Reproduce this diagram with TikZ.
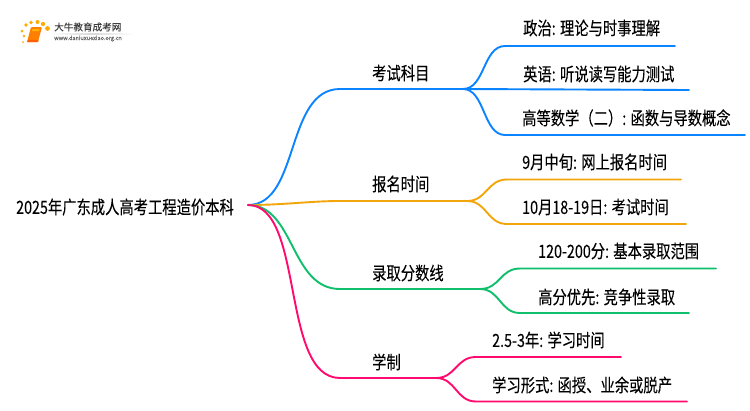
\documentclass[tikz,border=0pt]{standalone}
\usepackage{fontspec}
\setmainfont{Noto Sans CJK SC}[FakeBold=0.12]
\definecolor{blueline}{HTML}{0A84FF}
\definecolor{orangeline}{HTML}{F2A60C}
\definecolor{greenline}{HTML}{0FBF6C}
\definecolor{pinkline}{HTML}{FF0A6E}
\newcommand{\tall}[1]{\scalebox{1}[1.27]{#1}}
\tikzset{
  lbl/.style={anchor=west,inner sep=0pt,font=\fontsize{14.3}{16}\selectfont},
  conn/.style={line width=1.9pt,line cap=round}
}
\begin{document}
\begin{tikzpicture}[x=1pt,y=-1pt]
\useasboundingbox (0,0) rectangle (750,410);
% logo
\fill[white] (0,0) rectangle (750,410);
\shade[left color=white,right color=white,middle color=black!15] (50,33) rectangle (134,34);
\foreach \px/\py/\pr in {23/42/1,24/36/1.4,22/31/1.5,26/25/1.8,31/22.5/1.9,37.5/22/2,43/24/2.1,47.5/28.5/2.4}
  \fill[orange!65!yellow] (\px,\py) circle (\pr);
\fill[orange,rounded corners=1pt] (31,27) -- (42,27) -- (38,42) -- (27,42) -- cycle;
\fill[orange!60!yellow] (32.5,29) -- (39.5,29) -- (39,31) -- (32,31) -- cycle;
\fill[orange!75!red] (27,42) -- (38,42) -- (38.6,39.8) -- (28,40) -- cycle;
\node[inner sep=0pt,anchor=west,font=\fontsize{9.6}{10}\selectfont,text=black!75] (logoname) at (54,27) {大牛教育成考网};
\node[inner sep=0pt,anchor=west,font=\fontsize{5.6}{6}\selectfont,text=black!60] (logourl) at (54,38.5) {www.daniuxuexiao.org.cn};
% root
\node[lbl] (root) at (16,207) {\tall{2025年广东成人高考工程造价本科}};
\coordinate (o) at (248,205);
% first level
\node[lbl] (exam) at (372,73) {\tall{考试科目}};
\node[lbl] (sign) at (372,184) {\tall{报名时间}};
\node[lbl] (score) at (372,273) {\tall{录取分数线}};
\node[lbl] (study) at (372,362) {\tall{学制}};
\coordinate (examf) at (463,89);
\coordinate (signf) at (467,201);
\coordinate (scoref) at (480,289);
\coordinate (studyf) at (436,378);
% leaves
\node[lbl] (l1) at (523,28) {\tall{政治: 理论与时事理解}};
\node[lbl] (l2) at (523,74) {\tall{英语: 听说读写能力测试}};
\node[lbl] (l3) at (522,118) {\tall{高等数学（二）: 函数与导数概念}};
\node[lbl] (l4) at (522,162) {\tall{9月中旬: 网上报名时间}};
\node[lbl] (l5) at (522,207) {\tall{10月18-19日: 考试时间}};
\node[lbl] (l6) at (538,251) {\tall{120-200分: 基本录取范围}};
\node[lbl] (l7) at (538,297) {\tall{高分优先: 竞争性录取}};
\node[lbl] (l8) at (492,340) {\tall{2.5-3年: 学习时间}};
\node[lbl] (l9) at (492,385) {\tall{学习形式: 函授、业余或脱产}};
% blue
\draw[conn,blueline] (o) .. controls (300,205) and (285,89) .. (340,89) -- (examf);
\draw[conn,blueline] (examf) .. controls (485,89) and (483,46) .. (505,46) -- (675,46);
\draw[conn,blueline] (examf) -- (689,90);
\draw[conn,blueline] (examf) .. controls (485,89) and (483,135) .. (505,135) -- (745,135);
% orange
\draw[conn,orangeline] (o) .. controls (285,205) and (310,201) .. (340,201) -- (signf);
\draw[conn,orangeline] (signf) .. controls (487,201) and (487,179.5) .. (507,179.5) -- (681,179.5);
\draw[conn,orangeline] (signf) .. controls (487,201) and (487,224) .. (507,224) -- (686,224);
% green
\draw[conn,greenline] (o) .. controls (295,205) and (290,289) .. (340,289) -- (scoref);
\draw[conn,greenline] (scoref) .. controls (500,289) and (500,268.5) .. (520,268.5) -- (716,268.5);
\draw[conn,greenline] (scoref) .. controls (500,289) and (500,313) .. (520,313) -- (689,313);
% pink
\draw[conn,pinkline] (o) .. controls (305,205) and (280,378) .. (340,378) -- (studyf);
\draw[conn,pinkline] (studyf) .. controls (456,378) and (456,357) .. (476,357) -- (621,357);
\draw[conn,pinkline] (studyf) .. controls (456,378) and (456,401.5) .. (476,401.5) -- (687,401.5);
\end{tikzpicture}
\end{document}
